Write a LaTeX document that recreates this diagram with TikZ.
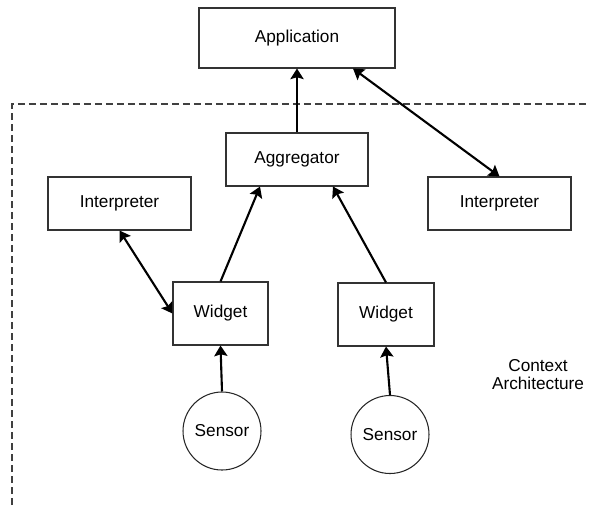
\documentclass[tikz,border=0pt]{standalone}
\usepackage{fontspec}
\setmainfont{Liberation Sans}
\usetikzlibrary{calc}
\usetikzlibrary{arrows.meta}

\begin{document}
\begin{tikzpicture}[x=0.02cm, y=-0.02cm,
    every node/.style={font=\fontsize{9.8}{10.3}\selectfont},
    box/.style={draw=black!80, line width=0.6pt, inner sep=0pt},
    sensor/.style={draw=black!85, circle, line width=0.6pt, minimum size=1.56cm, inner sep=0pt},
    link/.style={line width=1.2pt, -{Stealth[length=6pt, width=7.5pt, inset=1pt]}},
    biglink/.style={link, {Stealth[length=6pt, width=7.5pt, inset=1pt]}-{Stealth[length=6pt, width=7.5pt, inset=1pt]}}]
    \useasboundingbox (0,0) rectangle (590,505);

    % boundary of the context architecture
    \coordinate (ctx_corner) at (12,104);
    \draw[black!75, line width=0.6pt, dash pattern=on 0.14cm off 0.08cm] (12,505) -- (ctx_corner) -- (590,104);

    \node[box, minimum width=3.92cm, minimum height=1.2cm] (app) at (297,38) {Application};
    \node[box, minimum width=2.84cm, minimum height=1.06cm] (agg) at (297,159.5) {Aggregator};
    \node[box, minimum width=2.86cm, minimum height=1.06cm] (interp_l) at (119.5,203.5) {Interpreter};
    \node[box, minimum width=2.86cm, minimum height=1.06cm] (interp_r) at (499.5,203.5) {Interpreter};
    \node[box, minimum width=1.9cm, minimum height=1.26cm] (widget_l) at (220.5,313.5) {Widget};
    \node[box, minimum width=1.92cm, minimum height=1.26cm] (widget_r) at (386,314.5) {Widget};
    \node[sensor] (sensor_l) at (222,431) {Sensor};
    \node[sensor] (sensor_r) at (390,434.5) {Sensor};

    \node[align=center] (ctx_label) at (538,375) {Context\\Architecture};

    \draw[link] (agg.north) -- (app.south);
    \draw[biglink] ($(app.south)+(56,0)$) -- (interp_r.north);
    \draw[link] (widget_l.north) -- ($(agg.south)+(-37,0)$);
    \draw[link] (widget_r.north) -- ($(agg.south)+(36,0)$);
    \draw[biglink] (interp_l.south) -- (widget_l.west);
    \draw[link] (sensor_l.north) -- (widget_l.south);
    \draw[link] (sensor_r.north) -- (widget_r.south);

\end{tikzpicture}
\end{document}
